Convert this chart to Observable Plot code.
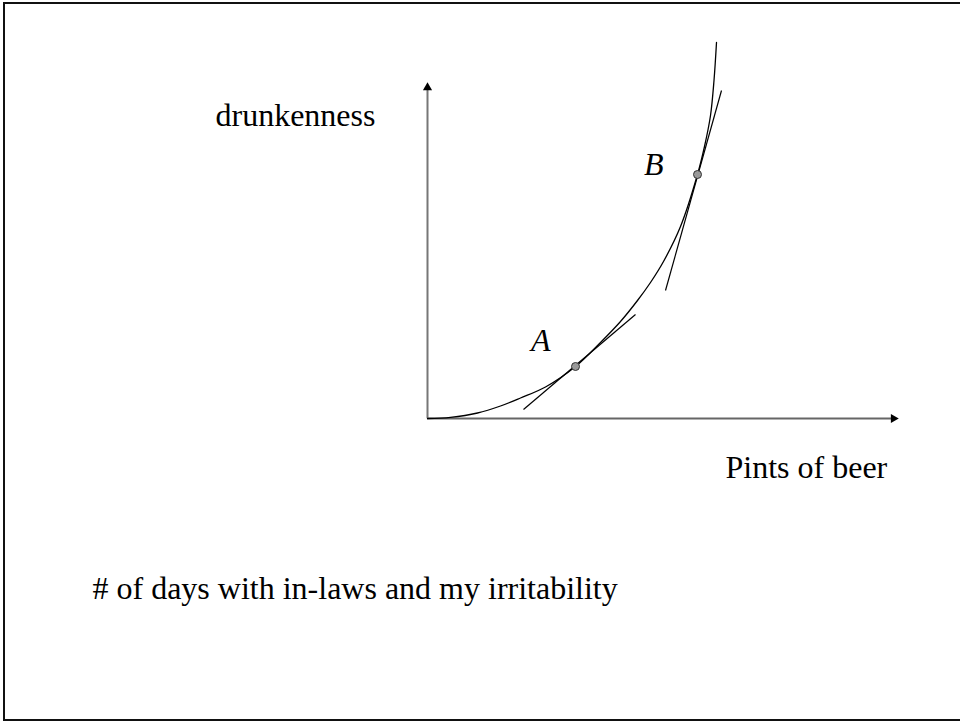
<!DOCTYPE html>
<html>
<head>
<meta charset="utf-8">
<script src="https://cdn.jsdelivr.net/npm/d3@7"></script>
<script src="https://cdn.jsdelivr.net/npm/@observablehq/plot@0.6"></script>
<style>
  html, body { margin: 0; padding: 0; background: #fff; }
  #slide { position: relative; width: 960px; height: 721px; overflow: hidden; }
  #border { position: absolute; left: 3px; top: 2px; width: 970px; height: 715px;
            border-left: 2.5px solid #111; border-top: 2.5px solid #111; border-bottom: 2.5px solid #111; }
  #slide svg { position: absolute; left: 0; top: 0; }
</style>
</head>
<body>
<div id="slide"><div id="border"></div></div>
<script>
// Convex curve: drunkenness as a function of pints of beer
const pints = [0, 0.23, 0.50, 0.73, 0.93, 1.18, 1.48, 1.73, 1.93, 2.10, 2.23, 2.36, 2.53, 2.70, 2.77, 2.83, 2.865, 2.89];
const drunkenness = [0, 0.012, 0.055, 0.125, 0.205, 0.315, 0.52, 0.76, 0.97, 1.18, 1.36, 1.57, 1.92, 2.44, 2.72, 3.03, 3.38, 3.76];

// Marked points on the curve
const pointLabels = ["A", "B"];
const pointX = [1.48, 2.70];
const pointY = [0.52, 2.44];

// Tangent segments through A and B
const tangentX1 = [0.96, 2.38];
const tangentY1 = [0.09, 1.28];
const tangentX2 = [2.08, 2.94];
const tangentY2 = [1.04, 3.28];

// Axis extents (arrowheads sit at the ends)
const xAxisEnd = 4.66;
const yAxisEnd = 3.31;

const xTitle = "Pints of beer";
const yTitle = "drunkenness";
const caption = "# of days with in-laws and my irritability";

const curve = pints.map((p, i) => ({x: p, y: drunkenness[i]}));
const points = pointLabels.map((l, i) => ({label: l, x: pointX[i], y: pointY[i]}));
const tangents = tangentX1.map((_, i) => ({x1: tangentX1[i], y1: tangentY1[i], x2: tangentX2[i], y2: tangentY2[i]}));

const font = "'Liberation Serif', 'Times New Roman', serif";
const labelStyle = {x: "x", y: "y", text: "label", textAnchor: "end", fontSize: 32, fontStyle: "italic", fill: "#000"};

const chart = Plot.plot({
  width: 960,
  height: 721,
  margin: 0,
  x: {domain: [-4.27, 5.33], axis: null},
  y: {domain: [-3.03, 4.18], axis: null},
  style: {fontFamily: font, background: "transparent"},
  marks: [
    // axes
    Plot.ruleY([0], {x1: 0, x2: xAxisEnd, stroke: "#666", strokeWidth: 2}),
    Plot.ruleX([0], {y1: 0, y2: yAxisEnd, stroke: "#777", strokeWidth: 2}),
    Plot.dot([{x: xAxisEnd, y: 0}], {x: "x", y: "y", symbol: "triangle", r: 3.4, fill: "#000", stroke: "none", rotate: 90}),
    Plot.dot([{x: 0, y: yAxisEnd}], {x: "x", y: "y", symbol: "triangle", r: 3.4, fill: "#000", stroke: "none"}),
    // tangents
    Plot.link(tangents, {x1: "x1", y1: "y1", x2: "x2", y2: "y2", stroke: "#000", strokeWidth: 1.2}),
    // curve
    Plot.line(curve, {x: "x", y: "y", curve: "catmull-rom", stroke: "#000", strokeWidth: 1.3}),
    // points and their labels
    Plot.dot(points, {x: "x", y: "y", r: 4, fill: "#999", stroke: "#333", strokeWidth: 1}),
    Plot.text(points.filter(d => d.label === "A"), {...labelStyle, dx: -25, dy: -26}),
    Plot.text(points.filter(d => d.label === "B"), {...labelStyle, dx: -34, dy: -10}),
    // titles
    Plot.text([yTitle], {x: -2.12, y: 2.93, text: d => d, textAnchor: "start", lineAnchor: "bottom", fontSize: 32, fill: "#000"}),
    Plot.text([xTitle], {x: 2.98, y: -0.59, text: d => d, textAnchor: "start", lineAnchor: "bottom", fontSize: 32, fill: "#000"}),
    Plot.text([caption], {x: -3.35, y: -1.80, text: d => d, textAnchor: "start", lineAnchor: "bottom", fontSize: 32, fill: "#000"})
  ]
});
document.getElementById("slide").appendChild(chart);
</script>
</body>
</html>
